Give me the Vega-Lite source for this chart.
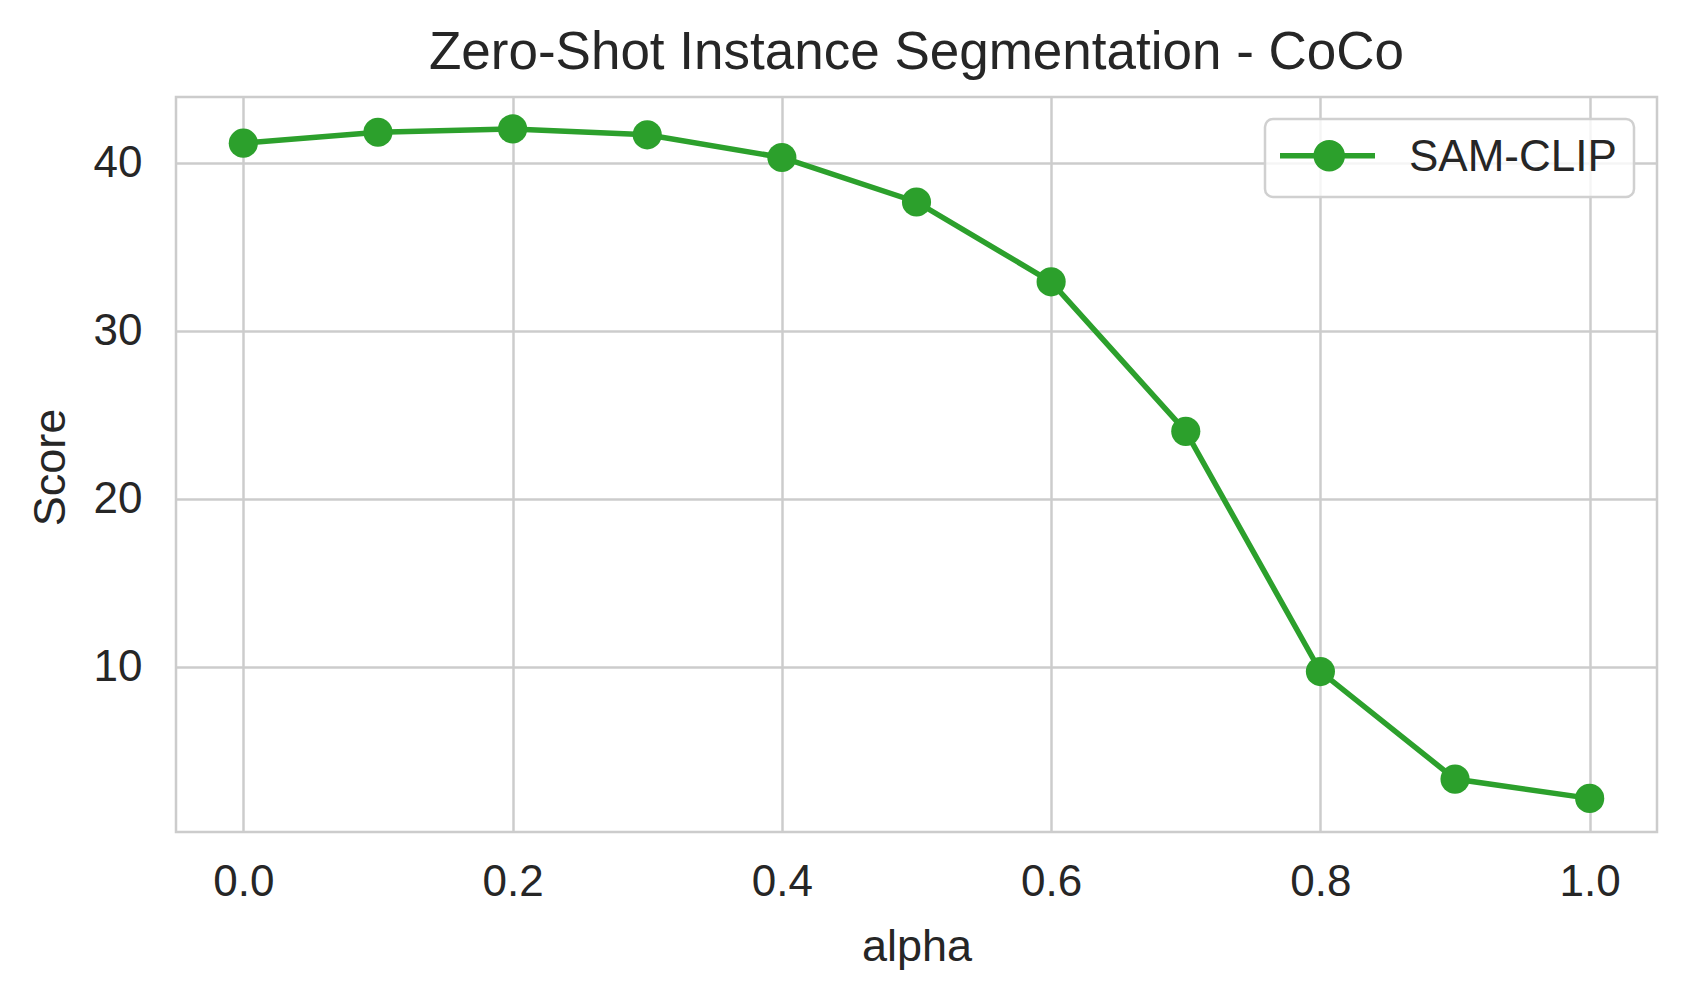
{
  "$schema": "https://vega.github.io/schema/vega-lite/v6.json",
  "width": 1481,
  "height": 735,
  "autosize": {"type": "none"},
  "padding": {"left": 176, "top": 97, "right": 27, "bottom": 168},
  "background": "white",
  "title": {
    "text": "Zero-Shot Instance Segmentation - CoCo",
    "fontSize": 53,
    "font": "Liberation Sans",
    "fontWeight": "normal",
    "color": "#262626",
    "anchor": "middle",
    "frame": "group",
    "baseline": "alphabetic",
    "offset": 27,
    "dy": 52
  },
  "config": {
    "view": {"stroke": "#cccccc", "strokeWidth": 2.5},
    "font": "Liberation Sans",
    "axis": {
      "grid": true,
      "gridColor": "#cccccc",
      "gridWidth": 2.5,
      "domain": false,
      "ticks": false,
      "tickSize": 0,
      "labelFont": "Liberation Sans",
      "labelFontSize": 44,
      "labelColor": "#262626",
      "titleFont": "Liberation Sans",
      "titleFontSize": 45,
      "titleFontWeight": "normal",
      "titleColor": "#262626"
    }
  },
  "data": {
    "values": [
      {"alpha": 0.0, "Score": 41.2, "series": "SAM-CLIP"},
      {"alpha": 0.1, "Score": 41.85, "series": "SAM-CLIP"},
      {"alpha": 0.2, "Score": 42.05, "series": "SAM-CLIP"},
      {"alpha": 0.3, "Score": 41.7, "series": "SAM-CLIP"},
      {"alpha": 0.4, "Score": 40.35, "series": "SAM-CLIP"},
      {"alpha": 0.5, "Score": 37.7, "series": "SAM-CLIP"},
      {"alpha": 0.6, "Score": 32.95, "series": "SAM-CLIP"},
      {"alpha": 0.7, "Score": 24.05, "series": "SAM-CLIP"},
      {"alpha": 0.8, "Score": 9.75, "series": "SAM-CLIP"},
      {"alpha": 0.9, "Score": 3.35, "series": "SAM-CLIP"},
      {"alpha": 1.0, "Score": 2.2, "series": "SAM-CLIP"}
    ]
  },
  "encoding": {
    "x": {
      "field": "alpha",
      "type": "quantitative",
      "scale": {"domain": [-0.05, 1.05], "nice": false, "zero": false},
      "axis": {
        "title": "alpha",
        "values": [0, 0.2, 0.4, 0.6, 0.8, 1.0],
        "format": ".1f",
        "labelPadding": 28,
        "titleBaseline": "alphabetic",
        "titleY": 128
      }
    },
    "y": {
      "field": "Score",
      "type": "quantitative",
      "scale": {"domain": [0.2, 43.95], "nice": false, "zero": false},
      "axis": {
        "title": "Score",
        "values": [10, 20, 30, 40],
        "format": "d",
        "labelPadding": 34,
        "titleBaseline": "alphabetic",
        "titleX": -112,
        "titleY": 370,
        "titleAngle": -90
      }
    }
  },
  "layer": [
    {
      "mark": {"type": "line", "strokeWidth": 5.5, "color": "#2ca02c"},
      "encoding": {}
    },
    {
      "mark": {"type": "point", "filled": true, "size": 850, "opacity": 1, "shape": "circle"},
      "encoding": {
        "color": {
          "field": "series",
          "type": "nominal",
          "scale": {"domain": ["SAM-CLIP"], "range": ["#2ca02c"]},
          "legend": {
            "title": null,
            "orient": "none",
            "legendX": 1089,
            "legendY": 22,
            "padding": 17,
            "cornerRadius": 8,
            "strokeColor": "#d0d0d0",
            "fillColor": "rgba(255,255,255,0.8)",
            "symbolType": "M-1.6,-0.33L4.733,-0.33L4.733,0.03L-1.6,0.03Z M2.733,-0.15A1.05,1.05 0 1,1 0.633,-0.15A1.05,1.05 0 1,1 2.733,-0.15Z",
            "symbolSize": 900,
            "symbolStrokeWidth": 0,
            "symbolOpacity": 1,
            "labelOffset": 83,
            "labelFont": "Liberation Sans",
            "labelFontSize": 44,
            "labelColor": "#262626",
            "labelLimit": 400,
            "encode": {"legend": {"update": {"strokeWidth": {"value": 2.5}}}}
          }
        }
      }
    }
  ]
}
